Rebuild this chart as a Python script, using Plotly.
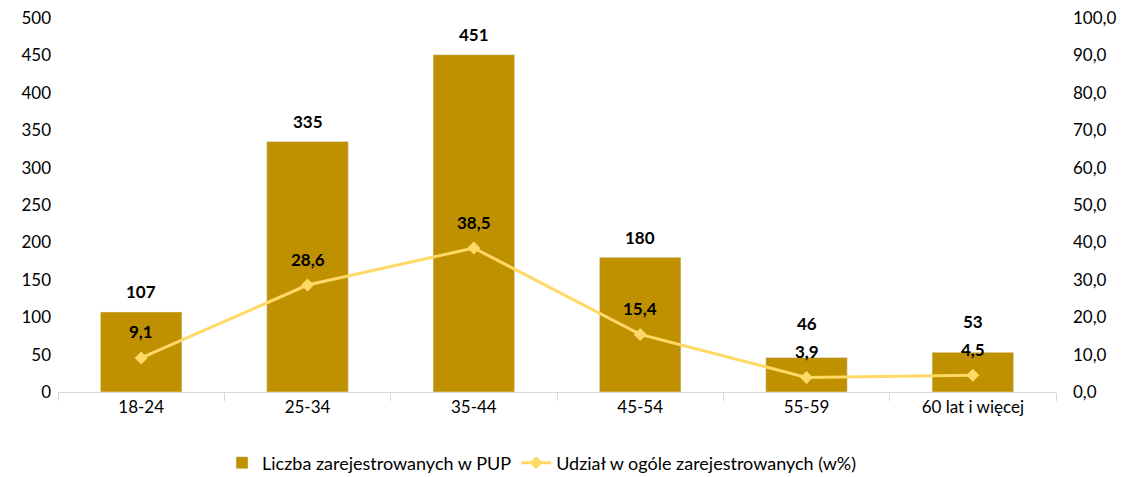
import plotly.graph_objects as go

categories = ["18-24", "25-34", "35-44", "45-54", "55-59", "60 lat i więcej"]
counts = [107, 335, 451, 180, 46, 53]
shares = [9.1, 28.6, 38.5, 15.4, 3.9, 4.5]
share_labels = ["9,1", "28,6", "38,5", "15,4", "3,9", "4,5"]

FONT = "Lato"
FS = 17
PLOT_H = 477 - 18 - 85
PX_LEFT = PLOT_H / 500.0
PX_RIGHT = PLOT_H / 100.0

fig = go.Figure()
fig.add_trace(go.Bar(
    x=categories, y=counts, name="Liczba zarejestrowanych w PUP",
    marker=dict(color="#BF9000"), width=0.49,
))
fig.add_trace(go.Scatter(
    x=categories, y=shares, name="Udział w ogóle zarejestrowanych (w%)",
    yaxis="y2", mode="lines+markers",
    line=dict(color="#FFD966", width=3),
    marker=dict(symbol="diamond", size=10, color="#FFD966"),
    cliponaxis=False,
))

annotations = []
for c, v, s, t in zip(categories, counts, shares, share_labels):
    line_label_px = s * PX_RIGHT + 26
    bar_shift = 20
    bar_label_px = v * PX_LEFT + bar_shift
    if abs(bar_label_px - line_label_px) < 25:
        bar_shift = line_label_px + 28 - v * PX_LEFT
    annotations.append(dict(x=c, y=v, xref="x", yref="y", text=f"<b>{v}</b>",
                            showarrow=False, yanchor="middle", yshift=bar_shift,
                            font=dict(family=FONT, size=FS, color="#000000")))
    annotations.append(dict(x=c, y=s, xref="x", yref="y2", text=f"<b>{t}</b>",
                            showarrow=False, yanchor="middle", yshift=26,
                            font=dict(family=FONT, size=FS, color="#000000")))

fig.update_layout(
    width=1130, height=477,
    margin=dict(l=58, r=74, t=18, b=85, autoexpand=False),
    paper_bgcolor="white", plot_bgcolor="white",
    font=dict(family=FONT, size=FS, color="#000000"),
    separators=", ",
    showlegend=True,
    annotations=annotations,
    legend=dict(orientation="h", x=0.485, xanchor="center", y=-0.19, yanchor="middle",
                font=dict(family=FONT, size=18), traceorder="normal"),
    xaxis=dict(showgrid=False, showline=True, linecolor="#D9D9D9", linewidth=1,
               ticks="outside", tickson="boundaries", ticklen=8, tickcolor="#D9D9D9",
               tickfont=dict(family=FONT, size=FS), automargin=False),
    yaxis=dict(range=[0, 500], dtick=50, showgrid=False, zeroline=False,
               showline=False, tickfont=dict(family=FONT, size=FS), automargin=False,
               ticklabelstandoff=6),
    yaxis2=dict(range=[0, 100], dtick=10, overlaying="y", side="right",
                showgrid=False, zeroline=False, showline=False, tickformat=".1f",
                tickfont=dict(family=FONT, size=FS), automargin=False,
                ticklabelstandoff=16),
)

fig.write_html("out.html", config={"displayModeBar": False},
               post_script="document.body.style.margin='0';")
